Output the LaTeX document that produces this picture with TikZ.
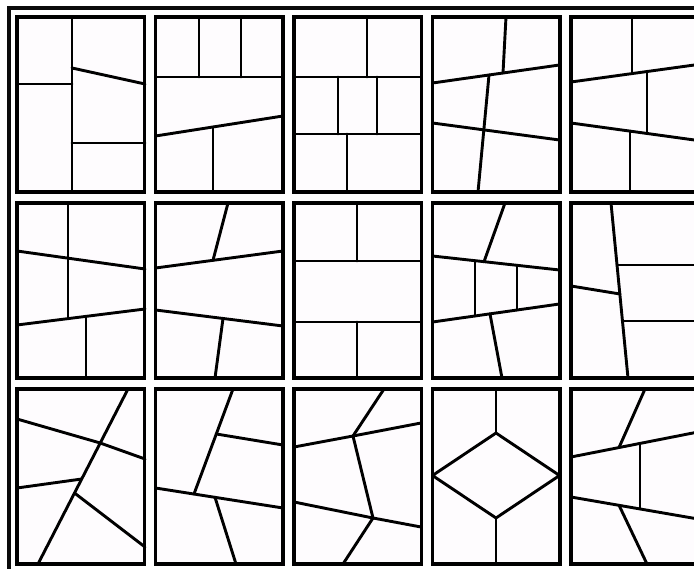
\documentclass[tikz,border=0pt]{standalone}
\usepackage{tkz-euclide}
\definecolor{PanelClr}{rgb}{0.996,0.988,0.996}
\definecolor{FrameClr}{rgb}{0.04,0.04,0.04}

\begin{document}
\begin{tikzpicture}[x=1pt,y=-1pt]
\tkzSetUpLine[line width=2.9pt,color=black]
\useasboundingbox (0,0) rectangle (694,569);
\clip (0,0) rectangle (694,569);

\draw[line width=4pt,color=FrameClr] (8.5,600) |- (720,8.5);

\foreach \x in {17,155.5,294,432.5,571}
  \foreach \y in {17,203,389}
    \draw[line width=3.8pt,fill=PanelClr] (\x,\y) rectangle ++(127.5,175);

% first row
\tkzDefPoints{72/17/A1,72/192/A2,17/84/A3,72/84/A4,72/68/A5,145/84/A6,72/143/A7,145/143/A8}
\tkzDefPoints{199/17/B1,199/77/B2,241/17/B3,241/77/B4,155.5/77/B5,283/77/B6,155.5/136/B7,283/116/B8,213/127/B9,213/192/B10}
\tkzDefPoints{367/17/C1,367/77/C2,294/77/C3,421/77/C4,338/77/C5,338/134/C6,377/77/C7,377/134/C8,294/134/C9,421/134/C10,347/134/C11,347/192/C12}
\tkzDefPoints{506/17/D1,503/73/D2,432.5/83/D3,559.5/65/D4,489/75/D5,478/192/D6,432.5/123/D7,559.5/140/D8}
\tkzDefPoints{632/17/E1,632/73.6/E2,571/82/E3,698/64.5/E4,647/71.5/E5,647/133.5/E6,571/123/E7,698/140.5/E8,630/131/E9,630/192/E10}

\tkzDrawSegments(A1,A2 A3,A4 A5,A6 A7,A8)
\tkzDrawSegments(B1,B2 B3,B4 B5,B6 B7,B8 B9,B10)
\tkzDrawSegments(C1,C2 C3,C4 C5,C6 C7,C8 C9,C10 C11,C12)
\tkzDrawSegments(D1,D2 D3,D4 D5,D6 D7,D8)
\tkzDrawSegments(E1,E2 E3,E4 E5,E6 E7,E8 E9,E10)

% second row
\tkzDefPoints{68/203/F1,68/318.6/F2,17/251/F3,145/269/F4,17/325/F5,145/309/F6,86/316.4/F7,86/378/F8}
\tkzDefPoints{228/203/G1,213/260.3/G2,155.5/268/G3,283/251/G4,155.5/310/G5,283/326/G6,223/318.5/G7,215/378/G8}
\tkzDefPoints{357/203/H1,357/261/H2,294/261/H3,421/261/H4,294/322/H5,421/322/H6,357/322/H7,357/378/H8}
\tkzDefPoints{505/203/I1,484/261.7/I2,432.5/256/I3,559.5/270/I4,432.5/322/I5,559.5/304/I6,475/260.7/I7,475/316/I8,517/265.3/I9,517/310/I10,490/313.9/I11,502/378/I12}
\tkzDefPoints{611/203/J1,628/378/J2,571/286/J3,620/294/J4,617/265/J5,698/265/J6,622.5/321/J7,698/321/J8}

\tkzDrawSegments(F1,F2 F3,F4 F5,F6 F7,F8)
\tkzDrawSegments(G1,G2 G3,G4 G5,G6 G7,G8)
\tkzDrawSegments(H1,H2 H3,H4 H5,H6 H7,H8)
\tkzDrawSegments(I1,I2 I3,I4 I5,I6 I7,I8 I9,I10 I11,I12)
\tkzDrawSegments(J1,J2 J3,J4 J5,J6 J7,J8)

% third row
\tkzDefPoints{128/389/K1,38/564/K2,17/419/K3,100.2/443/K4,145/459/K5,17/488/K6,81.7/479/K7,74.5/493/K8,145/547/K9}
\tkzDefPoints{233/389/L1,194/494/L2,216.3/434/L3,283/445/L4,155.5/488/L5,283/508/L6,215/497.3/L7,236/564/L8}
\tkzDefPoints{384/389/M1,353/436/M2,294/447/M3,421/423/M4,373/518/M5,294/502/M6,421/527/M7,343/564/M8}
\tkzDefPoints{496/389/N1,496/433/N2,559.5/475.5/N3,496/518/N4,432.5/475.5/N5,496/564/N6}
\tkzDefPoints{645/389/O1,619/447.6/O2,571/457/O3,698/432/O4,640/443.5/O5,640/508/O6,571/497/O7,698/519/O8,619/505.2/O9,647/564/O10}

\tkzDrawSegments(K1,K2 K3,K4 K4,K5 K6,K7 K8,K9)
\tkzDrawSegments(L1,L2 L3,L4 L5,L6 L7,L8)
\tkzDrawSegments(M1,M2 M3,M2 M2,M4 M2,M5 M6,M5 M5,M7 M5,M8)
\tkzDrawPolygon[line width=2.9pt,color=black](N2,N3,N4,N5)
\tkzDrawSegments(N1,N2 N4,N6)
\tkzDrawSegments(O1,O2 O3,O4 O5,O6 O7,O8 O9,O10)

\end{tikzpicture}
\end{document}
